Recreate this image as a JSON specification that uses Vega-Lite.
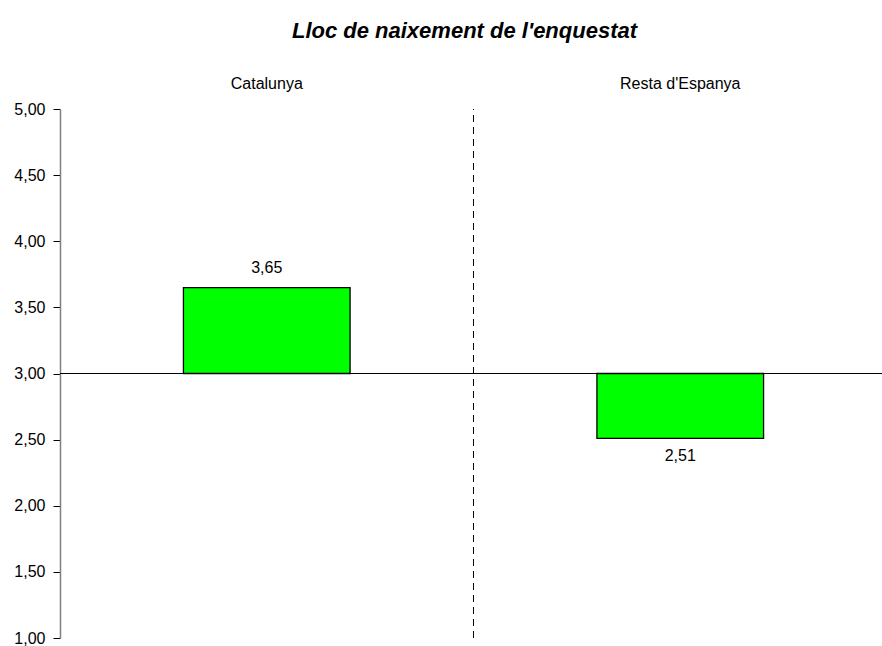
{
  "$schema": "https://vega.github.io/schema/vega-lite/v6.json",
  "width": 827,
  "height": 529,
  "autosize": {"type": "none"},
  "padding": {"left": 60, "top": 109, "right": 0, "bottom": 8},
  "background": "white",
  "config": {
    "view": {"stroke": null},
    "font": "Liberation Sans",
    "locale": {"number": {"decimal": ",", "thousands": ".", "grouping": [3], "currency": ["", " €"]}}
  },
  "title": {
    "text": "Lloc de naixement de l'enquestat",
    "font": "Liberation Sans",
    "fontSize": 22,
    "fontWeight": "bold",
    "fontStyle": "italic",
    "color": "black",
    "anchor": "middle",
    "dx": -9,
    "offset": 32
  },
  "data": {
    "values": [
      {"lloc": "Catalunya", "valor": 3.65},
      {"lloc": "Resta d'Espanya", "valor": 2.51}
    ]
  },
  "encoding": {
    "x": {
      "field": "lloc",
      "type": "nominal",
      "sort": null,
      "scale": {"paddingInner": 0, "paddingOuter": 0},
      "axis": {
        "orient": "top",
        "title": null,
        "domain": false,
        "ticks": false,
        "labelAngle": 0,
        "labelFont": "Liberation Sans",
        "labelFontSize": 16,
        "labelColor": "black",
        "labelBaseline": "alphabetic",
        "labelPadding": 21
      }
    }
  },
  "layer": [
    {
      "mark": {"type": "bar", "width": {"band": 0.403}, "fill": "#00ff00", "stroke": "black", "strokeWidth": 1.3},
      "encoding": {
        "y": {
          "field": "valor",
          "type": "quantitative",
          "scale": {"domain": [1, 5], "zero": false, "nice": false},
          "axis": {
            "title": null,
            "grid": false,
            "values": [1, 1.5, 2, 2.5, 3, 3.5, 4, 4.5, 5],
            "format": ".2f",
            "domainColor": "#808080",
            "domainWidth": 1.5,
            "tickColor": "black",
            "tickSize": 7,
            "labelFont": "Liberation Sans",
            "labelFontSize": 16,
            "labelColor": "black",
            "labelPadding": 8
          }
        },
        "y2": {"datum": 3}
      }
    },
    {
      "mark": {"type": "rule", "color": "black", "strokeWidth": 1},
      "encoding": {"y": {"datum": 3}, "x": null}
    },
    {
      "data": {"values": [{"lloc": "Resta d'Espanya"}]},
      "mark": {"type": "rule", "color": "black", "strokeDash": [7, 5], "strokeWidth": 1},
      "encoding": {
        "x": {"field": "lloc", "type": "nominal", "bandPosition": 0},
        "y": {"datum": 1},
        "y2": {"datum": 5}
      }
    },
    {
      "transform": [{"filter": "datum.valor >= 3"}],
      "mark": {"type": "text", "fontSize": 16, "font": "Liberation Sans", "color": "black", "baseline": "alphabetic", "dy": -15},
      "encoding": {
        "y": {"field": "valor", "type": "quantitative"},
        "text": {"field": "valor", "type": "quantitative", "format": ".2f"}
      }
    },
    {
      "transform": [{"filter": "datum.valor < 3"}],
      "mark": {"type": "text", "fontSize": 16, "font": "Liberation Sans", "color": "black", "baseline": "top", "dy": 10},
      "encoding": {
        "y": {"field": "valor", "type": "quantitative"},
        "text": {"field": "valor", "type": "quantitative", "format": ".2f"}
      }
    }
  ]
}
